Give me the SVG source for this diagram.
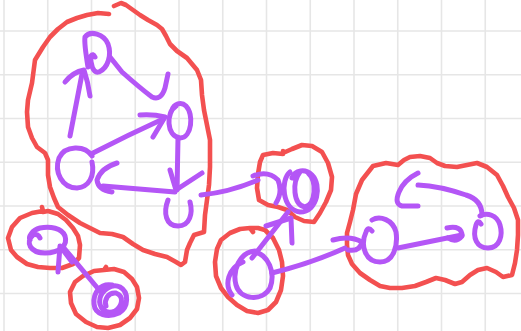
<svg xmlns="http://www.w3.org/2000/svg" width="521" height="331" viewBox="0 0 521 331">
<style>
.grid line{stroke:#e6e6e6;stroke-width:1.6}
.cl{fill:none;stroke:#f35050;stroke-width:4.6;stroke-linecap:round;stroke-linejoin:round}
.nd,.cn path{fill:none;stroke:#b456f6;stroke-width:5;stroke-linecap:round;stroke-linejoin:round}
</style>
<rect width="521" height="331" fill="#ffffff"/>
<g class="grid">
<line x1="4" y1="0" x2="4" y2="331"/><line x1="47.75" y1="0" x2="47.75" y2="331"/><line x1="91.5" y1="0" x2="91.5" y2="331"/><line x1="135.25" y1="0" x2="135.25" y2="331"/><line x1="179" y1="0" x2="179" y2="331"/><line x1="222.75" y1="0" x2="222.75" y2="331"/><line x1="266.5" y1="0" x2="266.5" y2="331"/><line x1="310.25" y1="0" x2="310.25" y2="331"/><line x1="354" y1="0" x2="354" y2="331"/><line x1="397.75" y1="0" x2="397.75" y2="331"/><line x1="441.5" y1="0" x2="441.5" y2="331"/><line x1="485.25" y1="0" x2="485.25" y2="331"/>
<line x1="0" y1="31" x2="521" y2="31"/><line x1="0" y1="74.75" x2="521" y2="74.75"/><line x1="0" y1="118.5" x2="521" y2="118.5"/><line x1="0" y1="162.25" x2="521" y2="162.25"/><line x1="0" y1="206" x2="521" y2="206"/><line x1="0" y1="249.75" x2="521" y2="249.75"/><line x1="0" y1="293.5" x2="521" y2="293.5"/>
</g>
<g id="clusters">
<path id="cluster1" class="cl" d="M109,14 L98,13 L87,15 L77,18 L67,22 L58,29 L50,37 L43,47 L35,60 L32,83 L28,100 L27,112 L28,127 L32,138 L37,147 L45,153 L48,160 L48,175 L50,187 L54,198 L58,207 L68,215 L80,223 L90,228 L100,233 L112,234 L123,237 L133,244 L143,250 L155,254 L167,257 L176,262 L181,265 L185,262 L187,250 L190,243 L194,235 L204,232 L205,215 L207,200 L209,185 L210,167 L210,140 L207,125 L204,110 L202,95 L201,80 L197,70 L187,58 L177,51 L170,44 L166,36 L162,29 L157,25 L148,20 L140,15 L133,10 L126,5 L121,3 L114,6"/>
<path id="clusterE" class="cl" d="M42,207 L43,211 L32,213 L20,218 L12,227 L8,238 L11,250 L17,257 L27,264 L38,267 L50,268 L62,268 L73,264 L79,258 L80,245 L78,236 L73,228 L66,220 L58,214 L48,211 L43,212"/>
<path id="clusterF" class="cl" d="M106,267 L104,270 L94,271 L83,276 L75,282 L70,292 L71,303 L76,314 L86,322 L97,327 L108,328 L120,325 L130,318 L137,309 L139,298 L137,287 L132,279 L124,272 L114,269 L104,270"/>
<path id="clusterG" class="cl" d="M283,151 L283,154 L273,153 L263,155 L260,162 L258,174 L257,188 L259,200 L268,205 L278,207 L287,210 L295,217 L304,221 L314,222 L320,213 L326,202 L331,190 L332,177 L328,163 L322,152 L312,146 L302,145 L292,149 L283,153"/>
<path id="clusterH" class="cl" d="M253,232 L250,228 L240,229 L230,233 L221,240 L217,249 L215,262 L216,276 L221,288 L228,297 L237,305 L247,311 L258,313 L268,310 L276,302 L281,290 L283,276 L282,262 L279,250 L273,238 L265,230 L258,228 L251,228"/>
<path id="clusterI" class="cl" d="M356,194 L362,180 L373,166 L386,163 L398,165 L404,160 L410,157 L420,156 L430,158 L437,163 L445,166 L457,167 L467,165 L477,163 L487,167 L497,175 L503,186 L508,197 L514,208 L518,220 L518,235 L517,250 L515,263 L512,275 L503,277 L496,272 L487,268 L478,270 L470,275 L462,282 L455,284 L445,280 L436,278 L426,282 L415,286 L402,288 L390,288 L380,286 L370,280 L360,273 L352,264 L348,255 L347,245 L347,233 L350,222 L353,210 L356,194"/>
</g>
<g class="cn" id="connectors">
<path d="M70,136 L82,74"/>
<path d="M65,82 Q73,72 84,70 Q88,82 90,96"/>
<path d="M110,57 L122,72 Q140,88 152,97 Q161,101 165,88 L168,74"/>
<path d="M93,153 Q128,135 163,119"/>
<path d="M140,115 Q153,114 165,117 L153,137"/>
<path d="M178,138 L177,190"/>
<path d="M170,170 L176,190 L202,173"/>
<path d="M175,192 Q140,189 103,186"/>
<path d="M117,163 Q101,168 97,180 Q98,190 112,192"/>
<path d="M201,195 Q230,192 258,180"/>
<path d="M253,176 Q268,170 278,180 Q283,192 276,203"/>
<path d="M100,291 L64,248"/>
<path d="M58,272 L60,246 L72,262"/>
<path d="M252,258 L288,212"/>
<path d="M266,226 L291,218 L292,243"/>
<path d="M272,273 Q312,263 345,248"/>
<path d="M333,240 Q350,235 362,242 Q360,252 348,250"/>
<path d="M398,248 L462,235"/>
<path d="M447,228 Q462,225 462,236 Q456,243 448,238"/>
<path d="M482,215 Q482,200 466,195 Q440,186 418,185"/>
<path d="M418,173 Q404,180 399,192 Q394,204 402,206 L418,206"/>
</g>
<g id="nodeA"><path class="nd" d="M88,67 C86,55 84,43 85,37 C90,30 104,34 108,44 C112,55 108,68 99,72 C93,74 90,63 91,56 Q93,53 95,57"/></g>
<g id="nodeB"><path class="nd" d="M176,106 C166,112 166,136 180,138 C192,138 194,114 186,106 C181,101 174,104 172,110"/></g>
<g id="nodeC"><path class="nd" d="M92,156 C85,145 65,145 59,158 C54,172 62,188 77,188 C89,187 95,176 92,162"/></g>
<g id="nodeD"><path class="nd" d="M168,200 C163,213 166,226 178,226 C190,226 193,213 190,202"/></g>
<g id="nodeE"><path class="nd" d="M40,238 Q38,233 33,235 C25,242 30,253 45,253 C60,253 68,245 65,236 C62,228 50,226 40,228 C32,230 28,237 30,240"/></g>
<g id="nodeF"><path class="nd" d="M112,285 C100,283 93,293 94,304 C95,315 108,318 119,313 C129,307 129,292 120,287 C112,283 102,290 100,298 C98,308 106,315 115,311 C123,306 124,296 116,293 C108,292 104,300 106,306"/></g>
<g id="nodeG"><path class="nd" d="M290,172 C280,180 282,210 300,212 C318,212 322,185 312,175 C305,168 295,170 292,178 M300,172 C292,182 293,205 305,207 C316,204 317,181 308,173"/></g>
<g id="nodeH"><path class="nd" d="M255,251 C240,252 232,270 236,285 C240,300 262,302 270,288 C276,272 268,255 255,252 M243,262 C228,268 224,285 232,295"/></g>
<g id="nodeI"><path class="nd" d="M372,231 Q368,226 366,232 C360,245 365,262 380,262 C394,262 398,245 396,232 C393,220 380,215 372,220"/></g>
<g id="nodeJ"><path class="nd" d="M481,224 Q478,219 476,225 C472,238 477,248 488,248 C500,248 503,235 500,225 C497,215 487,212 480,216"/></g>
</svg>
